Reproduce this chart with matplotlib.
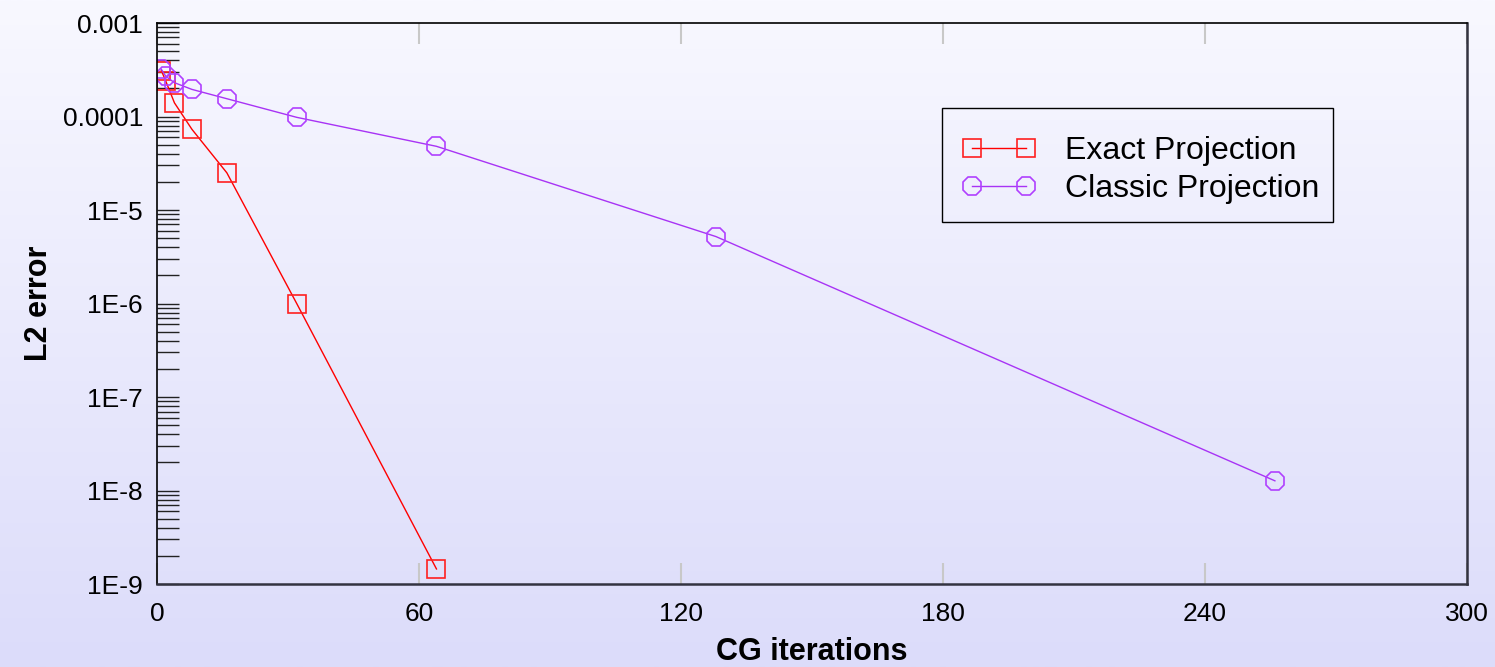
import numpy as np
import matplotlib
matplotlib.use('Agg')
import matplotlib.pyplot as plt
from matplotlib.patches import Rectangle
from matplotlib.ticker import FixedLocator, FixedFormatter, LogLocator, NullFormatter
from matplotlib.legend_handler import HandlerLine2D

plt.rcParams['font.family'] = ['Liberation Sans', 'DejaVu Sans']

# data
exact_iters = [1, 2, 4, 8, 16, 32, 64]
exact_err = [3.1e-4, 2.4e-4, 1.4e-4, 7.3e-5, 2.5e-5, 1.0e-6, 1.45e-9]
classic_iters = [1, 2, 4, 8, 16, 32, 64, 128, 256]
classic_err = [3.2e-4, 2.7e-4, 2.3e-4, 1.95e-4, 1.55e-4, 9.8e-5, 4.8e-5, 5.2e-6, 1.27e-8]

x_ticks = [0, 60, 120, 180, 240, 300]
y_ticks = [1e-9, 1e-8, 1e-7, 1e-6, 1e-5, 1e-4, 1e-3]
y_labels = ['1E-9', '1E-8', '1E-7', '1E-6', '1E-5', '0.0001', '0.001']

fig = plt.figure(figsize=(14.95, 6.67), dpi=100)

# gradient background
bg = fig.add_axes([0, 0, 1, 1], zorder=-1)
grad = np.linspace(0, 1, 256).reshape(-1, 1)
top = np.array([248, 248, 255]) / 255
bot = np.array([220, 220, 250]) / 255
img = top[None, None, :] * (1 - grad[:, :, None]) + bot[None, None, :] * grad[:, :, None]
bg.imshow(img, aspect='auto', extent=[0, 1, 0, 1])
bg.axis('off')

ax = fig.add_axes([0.105, 0.1244, 0.8763, 0.8411])
ax.patch.set_alpha(0)
ax.set_yscale('log')
ax.set_xlim(0, 300)
ax.set_ylim(1e-9, 1e-3)

l1, = ax.plot(exact_iters, exact_err, color='#FF0000', lw=1, marker='s', ms=13,
              mfc='none', mec='#FF2020', mew=1.2, label='Exact Projection')
l2, = ax.plot(classic_iters, classic_err, color='#A833F5', lw=1, marker='8', ms=14,
              mfc='none', mec='#B040FF', mew=1.2, label='Classic Projection')

ax.xaxis.set_major_locator(FixedLocator(x_ticks))
ax.yaxis.set_major_locator(FixedLocator(y_ticks))
ax.yaxis.set_major_formatter(FixedFormatter(y_labels))
ax.yaxis.set_minor_locator(LogLocator(base=10, subs=np.arange(2, 10)))
ax.yaxis.set_minor_formatter(NullFormatter())

ax.tick_params(axis='x', which='major', direction='in', length=15, width=1.5,
               color='#C8C8C8', top=True, labelsize=19, pad=13)
ax.tick_params(axis='y', which='both', direction='in', length=16, width=1,
               color='#222222', right=False, labelsize=19, pad=10)

for s in ['left', 'top']:
    ax.spines[s].set_color('black')
    ax.spines[s].set_linewidth(1.2)
for s in ['right', 'bottom']:
    ax.spines[s].set_color('#333340')
    ax.spines[s].set_linewidth(1.8)

ax.set_xlabel('CG iterations', fontsize=22, fontweight='bold', labelpad=8)
ax.set_ylabel('L2 error', fontsize=22, fontweight='bold', labelpad=6)

# legend box drawn separately so the padding can match
ax.add_patch(Rectangle((0.5992, 0.6453), 0.2985, 0.2032, transform=ax.transAxes,
                       fill=False, edgecolor='black', lw=1, zorder=5))
hm = {l1: HandlerLine2D(numpoints=2, marker_pad=0.75),
      l2: HandlerLine2D(numpoints=2, marker_pad=0.75)}
leg = ax.legend(loc='upper left', bbox_to_anchor=(0.6038, 0.7986), handler_map=hm,
                fontsize=23, frameon=False, handlelength=3.2, borderpad=0,
                borderaxespad=0, labelspacing=0.25, handletextpad=0.45)

fig.savefig('out.png', dpi=100)
